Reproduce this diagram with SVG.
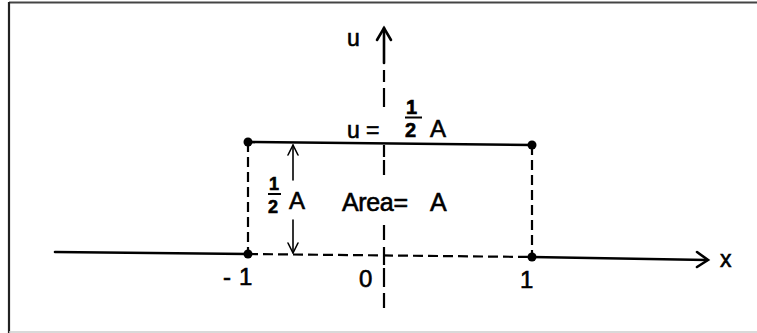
<svg xmlns="http://www.w3.org/2000/svg" width="757" height="333" viewBox="0 0 757 333">
<style>
.t{font-family:"Liberation Sans","DejaVu Sans",sans-serif;fill:#000;stroke:#000;stroke-width:0.6}
.s{stroke:#000;stroke-width:2.6;fill:none;stroke-linecap:round}
.d{stroke:#000;stroke-width:2.2;fill:none}
.h{stroke:#000;stroke-width:1.6;fill:none;stroke-linecap:round;stroke-linejoin:round}
</style>
<rect x="0" y="0" width="757" height="333" fill="#fff"/>
<line x1="9" y1="2.5" x2="757" y2="2.5" stroke="#444" stroke-width="2"/>
<line x1="9" y1="2" x2="9" y2="333" stroke="#222" stroke-width="2.2"/>
<line x1="9" y1="332" x2="757" y2="332" stroke="#ccc" stroke-width="1.5"/>
<g id="connectors">
<g id="u-axis">
<line class="s" x1="384" y1="28" x2="384" y2="63"/>
<polyline class="s" points="377,40 384,28 391,40"/>
<path class="d" d="M384,70V82M384,88V107M384,145V157M384,160V175M384,225V240M384,247V265M384,268V287M384,293V308"/>
</g>
<g id="x-axis">
<line class="s" x1="55" y1="252" x2="248" y2="254"/>
<line class="s" x1="532" y1="257" x2="707" y2="260"/>
<polyline class="s" points="697,252 708,260 697,267"/>
<line class="d" x1="248" y1="254" x2="532" y2="257" stroke-dasharray="10,5"/>
</g>
<g id="pulse">
<line class="s" x1="248" y1="142" x2="532" y2="145"/>
<line class="d" x1="248" y1="142" x2="248" y2="254" stroke-dasharray="10,5"/>
<line class="d" x1="532" y1="145" x2="532" y2="257" stroke-dasharray="10,5"/>
</g>
<g id="height-arrow">
<line class="h" x1="293" y1="145" x2="293" y2="180"/>
<line class="h" x1="293" y1="220" x2="293" y2="253"/>
<polyline class="h" points="288,155 293,145 298,155"/>
<polyline class="h" points="288,243 293,253 298,243"/>
</g>
</g>
<g id="dots">
<circle cx="248" cy="142" r="4.5"/>
<circle cx="532" cy="145" r="4.5"/>
<circle cx="248" cy="254" r="4.5"/>
<circle cx="532" cy="257" r="4.5"/>
</g>
<g id="labels">
<text class="t" x="347" y="46" font-size="23">u</text>
<text class="t" x="347" y="138" font-size="23">u</text>
<text class="t" x="366" y="138" font-size="23">=</text>
<text class="t" x="406" y="113.5" font-size="20" font-weight="bold">1</text>
<line x1="405" y1="117.5" x2="422" y2="117.5" stroke="#000" stroke-width="2"/>
<text class="t" x="405" y="137" font-size="20" font-weight="bold">2</text>
<text class="t" x="430" y="137" font-size="24">A</text>
<text class="t" x="269" y="190" font-size="18" font-weight="bold">1</text>
<line x1="268" y1="194" x2="281" y2="194" stroke="#000" stroke-width="2"/>
<text class="t" x="268" y="213" font-size="18" font-weight="bold">2</text>
<text class="t" x="289" y="209" font-size="24">A</text>
<text class="t" x="342" y="211" font-size="25" textLength="66" lengthAdjust="spacing">Area=</text>
<text class="t" x="430" y="211" font-size="25">A</text>
<text class="t" x="223" y="285" font-size="24">-</text>
<text class="t" x="239" y="285" font-size="24">1</text>
<text class="t" x="359" y="287" font-size="24">0</text>
<text class="t" x="520" y="288" font-size="24">1</text>
<text class="t" x="720" y="267" font-size="23">x</text>
</g>
</svg>
